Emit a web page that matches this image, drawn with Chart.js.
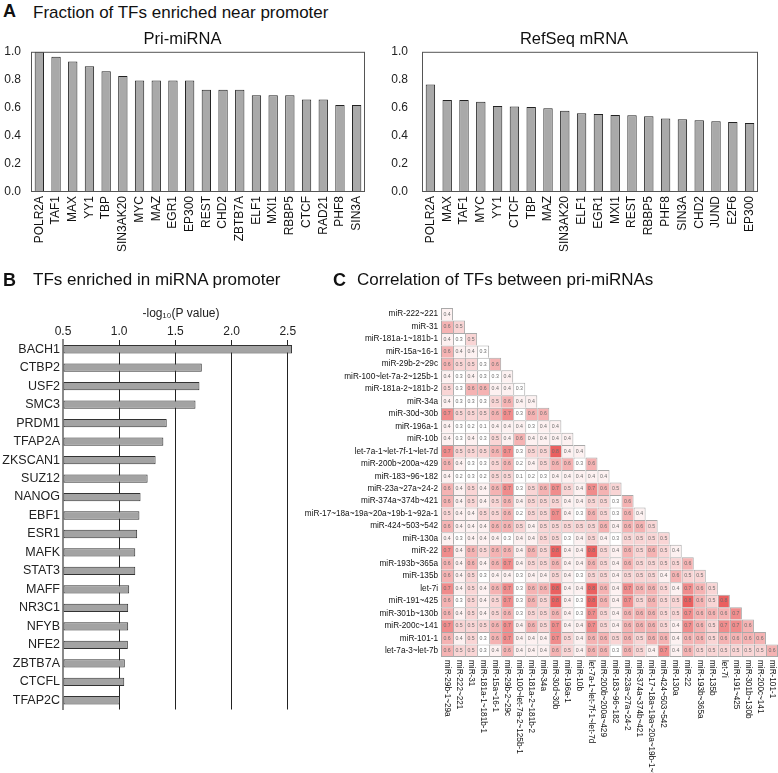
<!DOCTYPE html>
<html>
<head>
<meta charset="utf-8">
<script src="https://cdn.jsdelivr.net/npm/chart.js@4.4.1/dist/chart.umd.min.js"></script>
<style>
body { margin: 0; background: #fff; font-family: "Liberation Sans", Arial, sans-serif; color: #111; }
#page { position: relative; width: 778px; height: 773px; overflow: hidden; }
.letter { position: absolute; font-size: 18px; line-height: 18px; font-weight: bold; }
.head { position: absolute; font-size: 17px; line-height: 17px; white-space: nowrap; }
.box { position: absolute; }
</style>
</head>
<body>
<div id="page">
  <div class="letter" style="left:3px;top:2px">A</div>
  <div class="head" style="left:33px;top:4px">Fraction of TFs enriched near promoter</div>
  <div class="box" style="left:0;top:24px;width:390px;height:250px"><canvas id="priChart"></canvas></div>
  <div class="box" style="left:390px;top:24px;width:388px;height:250px"><canvas id="refChart"></canvas></div>

  <div class="letter" style="left:3px;top:271px">B</div>
  <div class="head" style="left:33px;top:271px">TFs enriched in miRNA promoter</div>
  <div class="box" style="left:0;top:300px;width:306px;height:420px"><canvas id="pvalChart"></canvas></div>

  <div class="letter" style="left:333px;top:271px">C</div>
  <div class="head" style="left:357px;top:271px">Correlation of TFs between pri-miRNAs</div>
  <div class="box" style="left:300px;top:300px;width:478px;height:473px"><canvas id="heatChart"></canvas></div>
</div>

<script>
// panel A data
var priLabels = ['POLR2A', 'TAF1', 'MAX', 'YY1', 'TBP', 'SIN3AK20', 'MYC', 'MAZ', 'EGR1', 'EP300',
    'REST', 'CHD2', 'ZBTB7A', 'ELF1', 'MXI1', 'RBBP5', 'CTCF', 'RAD21', 'PHF8', 'SIN3A']
var priValues = [1.0, 0.964, 0.93, 0.897, 0.862, 0.828, 0.796, 0.796, 0.796, 0.796,
    0.729, 0.729, 0.729, 0.69, 0.69, 0.69, 0.659, 0.659, 0.621, 0.621]

var refLabels = ['POLR2A', 'MAX', 'TAF1', 'MYC', 'YY1', 'CTCF', 'TBP', 'MAZ', 'SIN3AK20', 'ELF1',
    'EGR1', 'MXI1', 'REST', 'RBBP5', 'PHF8', 'SIN3A', 'CHD2', 'JUND', 'E2F6', 'EP300']
var refValues = [0.767, 0.657, 0.657, 0.643, 0.614, 0.61, 0.607, 0.598, 0.579, 0.562,
    0.557, 0.55, 0.548, 0.54, 0.524, 0.519, 0.512, 0.505, 0.5, 0.493]

// panel B data
var pvalLabels = ['BACH1', 'CTBP2', 'USF2', 'SMC3', 'PRDM1', 'TFAP2A', 'ZKSCAN1', 'SUZ12', 'NANOG', 'EBF1',
    'ESR1', 'MAFK', 'STAT3', 'MAFF', 'NR3C1', 'NFYB', 'NFE2', 'ZBTB7A', 'CTCFL', 'TFAP2C']
var pvalValues = [2.538, 1.735, 1.714, 1.679, 1.423, 1.393, 1.324, 1.253, 1.19, 1.18,
    1.16, 1.143, 1.143, 1.089, 1.08, 1.08, 1.077, 1.05, 1.045, 1.005]

// panel C data
var colNames = ['miR-29b-1~29a', 'miR-222~221', 'miR-31', 'miR-181a-1~181b-1', 'miR-15a~16-1',
    'miR-29b-2~29c', 'miR-100~let-7a-2~125b-1', 'miR-181a-2~181b-2', 'miR-34a', 'miR-30d~30b',
    'miR-196a-1', 'miR-10b', 'let-7a-1~let-7f-1~let-7d', 'miR-200b~200a~429', 'miR-183~96~182',
    'miR-23a~27a~24-2', 'miR-374a~374b~421', 'miR-17~18a~19a~20a~19b-1~92a-1', 'miR-424~503~542',
    'miR-130a', 'miR-22', 'miR-193b~365a', 'miR-135b', 'let-7i', 'miR-191~425', 'miR-301b~130b',
    'miR-200c~141', 'miR-101-1']
var rowNames = ['miR-222~221', 'miR-31', 'miR-181a-1~181b-1', 'miR-15a~16-1', 'miR-29b-2~29c',
    'miR-100~let-7a-2~125b-1', 'miR-181a-2~181b-2', 'miR-34a', 'miR-30d~30b', 'miR-196a-1',
    'miR-10b', 'let-7a-1~let-7f-1~let-7d', 'miR-200b~200a~429', 'miR-183~96~182', 'miR-23a~27a~24-2',
    'miR-374a~374b~421', 'miR-17~18a~19a~20a~19b-1~92a-1', 'miR-424~503~542', 'miR-130a', 'miR-22',
    'miR-193b~365a', 'miR-135b', 'let-7i', 'miR-191~425', 'miR-301b~130b', 'miR-200c~141',
    'miR-101-1', 'let-7a-3~let-7b']
var corr = [
    [0.4],
    [0.6, 0.5],
    [0.4, 0.3, 0.5],
    [0.6, 0.4, 0.4, 0.3],
    [0.6, 0.5, 0.5, 0.3, 0.6],
    [0.4, 0.3, 0.4, 0.3, 0.3, 0.4],
    [0.5, 0.3, 0.6, 0.6, 0.4, 0.4, 0.3],
    [0.4, 0.3, 0.3, 0.3, 0.5, 0.6, 0.4, 0.4],
    [0.7, 0.5, 0.5, 0.5, 0.6, 0.7, 0.3, 0.6, 0.6],
    [0.4, 0.3, 0.2, 0.1, 0.4, 0.4, 0.4, 0.3, 0.4, 0.4],
    [0.4, 0.3, 0.4, 0.3, 0.5, 0.4, 0.6, 0.4, 0.4, 0.4, 0.4],
    [0.7, 0.5, 0.5, 0.5, 0.6, 0.7, 0.3, 0.5, 0.5, 0.8, 0.4, 0.4],
    [0.6, 0.4, 0.3, 0.3, 0.5, 0.6, 0.2, 0.4, 0.5, 0.6, 0.6, 0.3, 0.6],
    [0.4, 0.2, 0.3, 0.2, 0.5, 0.5, 0.1, 0.2, 0.3, 0.4, 0.4, 0.4, 0.4, 0.4],
    [0.6, 0.4, 0.5, 0.4, 0.6, 0.7, 0.3, 0.5, 0.6, 0.7, 0.5, 0.4, 0.7, 0.6, 0.5],
    [0.6, 0.4, 0.5, 0.4, 0.5, 0.6, 0.4, 0.5, 0.5, 0.5, 0.4, 0.4, 0.5, 0.5, 0.3, 0.6],
    [0.5, 0.4, 0.4, 0.5, 0.5, 0.6, 0.2, 0.5, 0.5, 0.7, 0.4, 0.3, 0.6, 0.5, 0.3, 0.6, 0.4],
    [0.6, 0.4, 0.4, 0.4, 0.6, 0.6, 0.5, 0.4, 0.5, 0.5, 0.5, 0.5, 0.5, 0.6, 0.4, 0.6, 0.6, 0.5],
    [0.4, 0.3, 0.4, 0.4, 0.4, 0.3, 0.4, 0.4, 0.5, 0.5, 0.3, 0.4, 0.5, 0.4, 0.3, 0.5, 0.5, 0.5, 0.5],
    [0.7, 0.4, 0.6, 0.5, 0.6, 0.6, 0.4, 0.6, 0.5, 0.8, 0.4, 0.4, 0.8, 0.5, 0.4, 0.6, 0.5, 0.6, 0.5, 0.4],
    [0.6, 0.4, 0.6, 0.4, 0.6, 0.7, 0.4, 0.5, 0.5, 0.6, 0.4, 0.4, 0.6, 0.5, 0.4, 0.6, 0.5, 0.5, 0.5, 0.5, 0.6],
    [0.6, 0.4, 0.5, 0.3, 0.4, 0.4, 0.3, 0.4, 0.4, 0.5, 0.4, 0.3, 0.5, 0.5, 0.4, 0.5, 0.5, 0.5, 0.4, 0.6, 0.5, 0.5],
    [0.7, 0.4, 0.5, 0.4, 0.6, 0.7, 0.3, 0.6, 0.6, 0.8, 0.4, 0.4, 0.8, 0.6, 0.4, 0.7, 0.6, 0.6, 0.5, 0.4, 0.7, 0.6, 0.5],
    [0.6, 0.3, 0.5, 0.4, 0.5, 0.7, 0.3, 0.6, 0.5, 0.8, 0.4, 0.3, 0.8, 0.6, 0.4, 0.7, 0.5, 0.6, 0.5, 0.5, 0.8, 0.6, 0.5, 0.8],
    [0.6, 0.4, 0.5, 0.4, 0.5, 0.6, 0.3, 0.5, 0.5, 0.6, 0.4, 0.3, 0.7, 0.5, 0.4, 0.6, 0.6, 0.6, 0.5, 0.5, 0.7, 0.6, 0.6, 0.6, 0.7],
    [0.7, 0.5, 0.5, 0.5, 0.6, 0.7, 0.4, 0.6, 0.5, 0.7, 0.4, 0.4, 0.7, 0.5, 0.4, 0.6, 0.6, 0.6, 0.5, 0.4, 0.7, 0.6, 0.5, 0.7, 0.7, 0.6],
    [0.6, 0.4, 0.5, 0.3, 0.6, 0.7, 0.4, 0.4, 0.4, 0.7, 0.5, 0.4, 0.6, 0.6, 0.5, 0.6, 0.5, 0.6, 0.6, 0.4, 0.6, 0.6, 0.5, 0.6, 0.6, 0.6, 0.6],
    [0.6, 0.5, 0.5, 0.3, 0.4, 0.6, 0.4, 0.4, 0.4, 0.6, 0.5, 0.4, 0.6, 0.6, 0.3, 0.6, 0.5, 0.4, 0.7, 0.4, 0.6, 0.5, 0.5, 0.5, 0.5, 0.5, 0.5, 0.6]
]

var FONT = "'Liberation Sans', Arial, sans-serif"
Chart.defaults.font.family = FONT
Chart.defaults.color = '#222'
Chart.defaults.animation = false

// box round the plot area
var frameBox = {
    id: 'frameBox',
    afterDatasetsDraw(chart, args, opts) {
        var a = chart.chartArea
        var ctx = chart.ctx
        ctx.save()
        ctx.strokeStyle = opts.color || '#555'
        ctx.lineWidth = 1
        ctx.strokeRect(a.left + 0.5, a.top + 0.5, a.right - a.left - 1, a.bottom - a.top - 1)
        ctx.restore()
    }
}

// 柱状图 panel A
function FracChart(id, labels, values, title, axisW, labelPad, rightPad) {
    var ctx = document.getElementById(id).getContext('2d')
    return new Chart(ctx, {
        type: 'bar',
        data: {
            labels: labels,
            datasets: [{
                data: values,
                backgroundColor: '#a9a9a9',
                borderColor: '#222',
                borderWidth: 1,
                borderSkipped: false,
                barPercentage: 0.56,
                categoryPercentage: 1
            }]
        },
        options: {
            responsive: true,
            maintainAspectRatio: false,
            layout: { padding: { right: rightPad } },
            plugins: {
                legend: { display: false },
                tooltip: { enabled: false },
                title: {
                    display: true, text: title, color: '#111',
                    font: { size: 16.5, weight: 'normal' },
                    padding: { top: 6, bottom: 2 }
                }
            },
            scales: {
                x: {
                    grid: { display: false, drawTicks: false },
                    border: { display: false },
                    ticks: { autoSkip: false, maxRotation: 90, minRotation: 90, padding: 4, font: { size: 12 }, color: '#111' },
                    afterFit: function (s) { s.height = 82 }
                },
                y: {
                    min: 0, max: 1,
                    grid: { display: false, drawTicks: false },
                    border: { display: false },
                    ticks: { stepSize: 0.2, padding: labelPad, font: { size: 12 }, color: '#222',
                        callback: function (v) { return v.toFixed(1) } },
                    afterFit: function (s) { s.width = axisW }
                }
            }
        },
        plugins: [frameBox]
    })
}

// 横向柱状图 panel B
function PvalChart() {
    var ctx = document.getElementById('pvalChart').getContext('2d')
    return new Chart(ctx, {
        type: 'bar',
        data: {
            labels: pvalLabels,
            datasets: [{
                data: pvalValues,
                base: 0.5,
                backgroundColor: '#a3a3a3',
                borderColor: '#333',
                borderWidth: 1,
                borderSkipped: false,
                barPercentage: 0.9,
                categoryPercentage: 0.5
            }]
        },
        options: {
            indexAxis: 'y',
            responsive: true,
            maintainAspectRatio: false,
            layout: { padding: { right: 7, bottom: 10 } },
            plugins: { legend: { display: false }, tooltip: { enabled: false } },
            scales: {
                x: {
                    position: 'top',
                    min: 0.5, max: 2.6,
                    grid: {
                        drawTicks: false,
                        color: function (c) { return c.tick && c.tick.value === 0.5 ? 'rgba(0,0,0,0)' : '#222' }
                    },
                    border: { display: false },
                    ticks: { stepSize: 0.5, includeBounds: false, padding: 1, font: { size: 12 }, color: '#222',
                        callback: function (v) { return v.toFixed(1) } },
                    title: { display: true, text: '-log\u2081\u2080(P value)', font: { size: 12 }, color: '#222',
                        padding: { top: 6, bottom: 0 } },
                    afterFit: function (s) { s.height = 40 }
                },
                y: {
                    grid: { display: false, drawTicks: false },
                    border: { display: true, color: '#8a8a8a', width: 2 },
                    ticks: { autoSkip: false, padding: 3, font: { size: 12.5 }, color: '#222' },
                    afterFit: function (s) { s.width = 63 }
                }
            }
        }
    })
}

// heatmap colour by value
function heatColor(v) {
    if (v <= 0.3) return '#ffffff'
    if (v <= 0.4) return '#fdf1f1'
    if (v <= 0.5) return '#f9d5d5'
    if (v <= 0.6) return '#f5b3b3'
    if (v <= 0.7) return '#f08c8c'
    return '#ea6060'
}

// numbers inside cells
var cellText = {
    id: 'cellText',
    afterDatasetsDraw(chart) {
        var ctx = chart.ctx
        ctx.save()
        ctx.font = '5.2px ' + FONT
        ctx.fillStyle = '#6e6e6e'
        ctx.textAlign = 'center'
        ctx.textBaseline = 'middle'
        chart.data.datasets.forEach(function (ds, r) {
            chart.getDatasetMeta(r).data.forEach(function (bar, c) {
                if (c > r) return
                var p = bar.getProps(['x', 'y', 'base'], true)
                ctx.fillText(corr[r][c].toFixed(1), p.x, (p.y + p.base) / 2)
            })
        })
        ctx.restore()
    }
}

// column names, turned to read downwards
var colTicks = {
    id: 'colTicks',
    afterDraw(chart) {
        var xs = chart.scales.x
        var ctx = chart.ctx
        ctx.save()
        ctx.font = '8.2px ' + FONT
        ctx.fillStyle = '#111'
        ctx.textAlign = 'left'
        ctx.textBaseline = 'middle'
        colNames.forEach(function (name, i) {
            ctx.save()
            ctx.translate(xs.getPixelForTick(i), chart.chartArea.bottom + 3)
            ctx.rotate(Math.PI / 2)
            ctx.fillText(name, 0, 0)
            ctx.restore()
        })
        ctx.restore()
    }
}

// 热图 panel C
function HeatChart() {
    var last = rowNames.length - 1
    var datasets = rowNames.map(function (name, r) {
        return {
            label: name,
            data: colNames.map(function (c, ci) { return ci <= r ? [r, r + 1] : null }),
            backgroundColor: function (ctx) { return heatColor(corr[r][ctx.dataIndex]) },
            borderColor: '#a9a9a9',
            borderWidth: function (ctx) {
                return { top: 1, left: 1, right: ctx.dataIndex === r ? 1 : 0, bottom: r === last ? 1 : 0 }
            },
            borderSkipped: false,
            inflateAmount: 0,
            grouped: false,
            barPercentage: 1,
            categoryPercentage: 1
        }
    })
    var ctx = document.getElementById('heatChart').getContext('2d')
    return new Chart(ctx, {
        type: 'bar',
        data: { labels: colNames, datasets: datasets },
        options: {
            responsive: true,
            maintainAspectRatio: false,
            layout: { padding: { top: 8 } },
            plugins: { legend: { display: false }, tooltip: { enabled: false } },
            scales: {
                x: {
                    grid: { display: false, drawTicks: false },
                    border: { display: false },
                    ticks: { display: false },
                    afterFit: function (s) { s.height = 116 }
                },
                y: {
                    min: 0, max: rowNames.length, reverse: true,
                    grid: { display: false, drawTicks: false },
                    border: { display: false },
                    afterBuildTicks: function (s) {
                        s.ticks = rowNames.map(function (n, i) { return { value: i + 0.5 } })
                    },
                    ticks: { autoSkip: false, padding: 3, font: { size: 8.2 }, color: '#111',
                        callback: function (v, i) { return rowNames[i] } },
                    afterFit: function (s) { s.width = 141 }
                }
            }
        },
        plugins: [cellText, colTicks]
    })
}

function initCharts() {
    FracChart('priChart', priLabels, priValues, 'Pri-miRNA', 31, 10, 25)
    FracChart('refChart', refLabels, refValues, 'RefSeq mRNA', 32, 14, 20)
    PvalChart()
    HeatChart()
}

document.addEventListener('DOMContentLoaded', initCharts)
</script>
</body>
</html>
